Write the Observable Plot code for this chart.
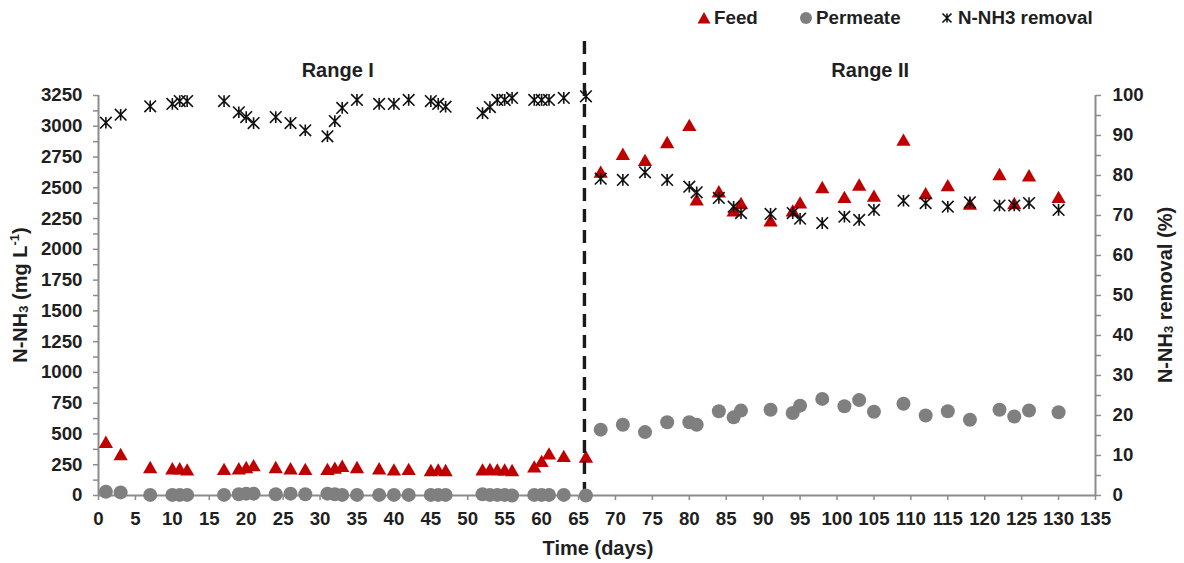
<!DOCTYPE html>
<html>
<head>
<meta charset="utf-8">
<script src="https://cdn.jsdelivr.net/npm/d3@7"></script>
<script src="https://cdn.jsdelivr.net/npm/@observablehq/plot@0.6"></script>
<style>
  body { margin: 0; background: #fff; font-family: "Liberation Sans", Arial, sans-serif; }
  #wrap { position: relative; width: 1184px; height: 563px; overflow: hidden; }
  #legend { position: relative; width: 1184px; height: 36px; }
  #legend .sym { position: absolute; top: 0; }
  #legend .lab { position: absolute; top: 0; line-height: 36px; font-size: 18.8px; font-weight: bold; color: #1f1f1f; white-space: nowrap; }
</style>
</head>
<body>
<div id="wrap">
  <div id="legend"></div>
  <div id="chart"></div>
</div>
<script>
// Sampling days (Range I: days 1-66, Range II: days 68-130)
const days = [
  1, 3, 7, 10, 11, 12, 17, 19, 20, 21, 24, 26, 28, 31, 32, 33, 35, 38, 40, 42, 45, 46, 47,
  52, 53, 54, 55, 56, 59, 60, 61, 63, 66,
  68, 71, 74, 77, 80, 81, 84, 86, 87, 91, 94, 95, 98, 101, 103, 105, 109, 112, 115, 118,
  122, 124, 126, 130
];

// N-NH3 in the feed (mg/L)
const feed = [
  420, 320, 215, 205, 205, 195, 200, 205, 215, 230, 215, 205, 200, 200, 210, 225, 215, 205, 195, 200, 190, 195, 190,
  195, 200, 195, 195, 190, 220, 265, 325, 305, 300,
  2615, 2760, 2710, 2855, 2995, 2390, 2455, 2300, 2360, 2220, 2300, 2365, 2490, 2410, 2510, 2420, 2875, 2440, 2505, 2355,
  2595, 2360, 2585, 2410
];

// N-NH3 in the permeate (mg/L)
const permeate = [
  30, 25, 5, 5, 5, 5, 5, 10, 15, 15, 10, 15, 10, 15, 10, 5, 5, 5, 5, 5, 5, 5, 5,
  10, 5, 5, 5, 0, 5, 5, 5, 5, 0,
  535, 575, 515, 595, 595, 575, 685, 635, 690, 697, 670, 730, 785, 725, 775, 680, 745, 650, 685, 615,
  697, 642, 691, 677
];

// N-NH3 removal (%)
const removal = [
  93.2, 95.2, 97.3, 97.9, 98.6, 98.6, 98.6, 95.8, 94.6, 93.1, 94.6, 93.1, 91.3, 89.8, 93.6, 96.9, 98.9, 97.9, 97.9, 98.9, 98.6, 97.9, 97.2,
  95.6, 97.1, 98.9, 98.9, 99.4, 98.9, 98.9, 98.9, 99.4, 99.8,
  79.2, 78.9, 80.8, 78.9, 77.2, 75.8, 74.4, 72.2, 70.6, 70.4, 70.6, 69.2, 68.1, 69.7, 68.9, 71.4, 73.7, 73.1, 72.2, 73.3,
  72.5, 72.5, 73.1, 71.4
];

// Operating ranges and the day separating them
const rangeNames = ["Range I", "Range II"];
const rangeCenters = [32.4, 104.5];
const rangeBoundary = [65.8];

// Axis ticks
const xTicks = d3.range(0, 136, 5);
const concTicks = d3.range(0, 3251, 250);
const concMinorTicks = d3.range(125, 3250, 250);
const pctTicks = d3.range(0, 101, 10);
const pctMinorTicks = d3.range(5, 100, 10);

// The removal axis on the right shares the plot height: 100 % <-> 3250 mg/L
const concMax = 3250;
const pctToConc = concMax / 100;

const feedColor = "#c00000";
const permeateColor = "#7f7f7f";
const axisColor = "#8c8c8c";
const textColor = "#1f1f1f";

// Excel-like "star" marker: an X crossed by a vertical bar
const starSymbol = {
  draw(context, size) {
    const r = Math.sqrt(size / Math.PI);
    context.moveTo(-r, -r); context.lineTo(r, r);
    context.moveTo(-r, r); context.lineTo(r, -r);
    context.moveTo(0, -r); context.lineTo(0, r);
  }
};

const idx = d3.range(days.length);

const chart = Plot.plot({
  width: 1184,
  height: 527,
  marginTop: 59,
  marginBottom: 68,
  marginLeft: 98,
  marginRight: 89,
  x: { domain: [0, 135] },
  y: { domain: [0, concMax] },
  style: {
    fontFamily: "'Liberation Sans', Arial, sans-serif",
    fontSize: "18.7px",
    fontWeight: "bold",
    color: textColor,
    background: "white",
    overflow: "visible"
  },
  marks: [
    // axis lines
    Plot.ruleY([0], { stroke: axisColor, strokeWidth: 2 }),
    Plot.ruleX([0], { stroke: axisColor, strokeWidth: 2 }),
    Plot.ruleX([135], { stroke: axisColor, strokeWidth: 2 }),
    // x axis
    Plot.axisX(xTicks, { tickSize: 5, tickPadding: 11, stroke: axisColor, strokeWidth: 1.5, fill: textColor, tickFormat: (v) => String(v), label: null }),
    // left concentration axis
    Plot.axisY(concTicks, { anchor: "left", tickSize: 5, tickPadding: 11, stroke: axisColor, strokeWidth: 1.5, fill: textColor, tickFormat: (v) => String(v), label: null }),
    Plot.axisY(concMinorTicks, { anchor: "left", tickSize: 5, tickFormat: () => "", stroke: axisColor, strokeWidth: 1.5, label: null }),
    // right removal axis
    Plot.axisY(pctTicks.map((p) => p * pctToConc), {
      anchor: "right", tickSize: 5, tickPadding: 12, stroke: axisColor, strokeWidth: 1.5, fill: textColor,
      tickFormat: (v) => String(Math.round(v / pctToConc)), label: null
    }),
    Plot.axisY(pctMinorTicks.map((p) => p * pctToConc), {
      anchor: "right", tickSize: 5, tickFormat: () => "", stroke: axisColor, strokeWidth: 1.5, label: null
    }),
    // range labels
    Plot.text(rangeNames, {
      x: (d, i) => rangeCenters[i], text: (d) => d, frameAnchor: "top", dy: -33,
      fontSize: 20, fontWeight: "bold", fill: textColor
    }),
    // feed series
    Plot.dot(idx, { x: (i) => days[i], y: (i) => feed[i], symbol: "triangle", r: 5.3, fill: feedColor, stroke: "none" }),
    // boundary between operating ranges
    Plot.ruleX(rangeBoundary, { y1: 0, y2: 3700, stroke: "#1a1a1a", strokeWidth: 3.4, strokeDasharray: "13,8" }),
    // permeate series
    Plot.dot(idx, { x: (i) => days[i], y: (i) => permeate[i], r: 7, fill: permeateColor, stroke: "none" }),
    // removal series, drawn against the right axis
    Plot.dot(idx, { x: (i) => days[i], y: (i) => removal[i] * pctToConc, symbol: starSymbol, r: 5.8, fill: "none", stroke: "#111", strokeWidth: 1.6 })
  ]
});

document.getElementById("chart").appendChild(chart);

// Axis titles with subscripts / superscripts
const svg = d3.select(chart);
function addTitle(x, y, rotate, parts) {
  const t = svg.append("text")
    .attr("transform", `translate(${x},${y})${rotate ? ` rotate(${rotate})` : ""}`)
    .attr("text-anchor", "middle")
    .attr("dominant-baseline", "central")
    .attr("font-size", 20)
    .attr("font-weight", "bold")
    .attr("fill", textColor);
  for (const [s, kind] of parts) {
    const ts = t.append("tspan").text(s);
    if (kind === "sub") ts.attr("font-size", 13).attr("baseline-shift", "-25%");
    if (kind === "sup") ts.attr("font-size", 13).attr("baseline-shift", "45%");
  }
}
addTitle(20, 259, -90, [["N-NH"], ["3", "sub"], [" (mg L"], ["-1", "sup"], [")"]]);
addTitle(1165, 259, -90, [["N-NH"], ["3", "sub"], [" removal (%)"]]);
addTitle(598, 512, 0, [["Time (days)"]]);

// Legend
const legend = d3.select("#legend");
const legendEntries = [
  { label: "Feed", cx: 704, tx: 714, kind: "triangle" },
  { label: "Permeate", cx: 806, tx: 816, kind: "circle" },
  { label: "N-NH3 removal", cx: 947, tx: 958, kind: "star" }
];
for (const e of legendEntries) {
  const s = legend.append("svg").attr("class", "sym")
    .attr("width", 20).attr("height", 36)
    .style("left", `${e.cx - 10}px`);
  const g = s.append("g").attr("transform", "translate(10,18)");
  if (e.kind === "triangle") g.append("path").attr("d", "M0,-6L6.5,5.5L-6.5,5.5Z").attr("fill", feedColor);
  if (e.kind === "circle") g.append("circle").attr("r", 6).attr("fill", permeateColor);
  if (e.kind === "star") g.append("path").attr("d", "M-4.5,-4.5L4.5,4.5M-4.5,4.5L4.5,-4.5M0,-4.5L0,4.5").attr("stroke", "#111").attr("stroke-width", 1.6).attr("fill", "none");
  legend.append("span").attr("class", "lab").style("left", `${e.tx}px`).text(e.label);
}
</script>
</body>
</html>
